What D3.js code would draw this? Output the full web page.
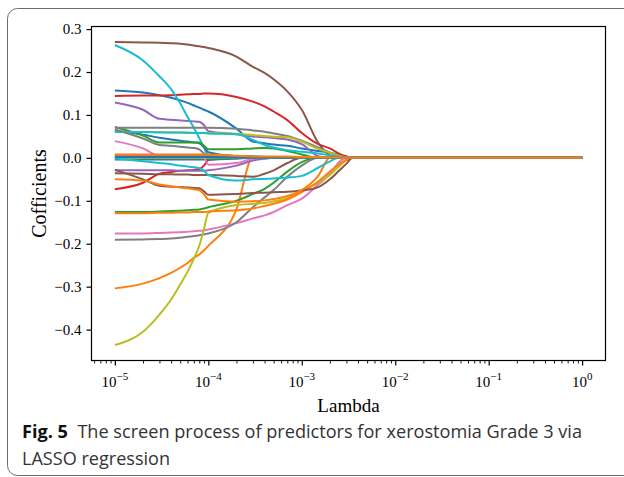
<!DOCTYPE html>
<html>
<head>
<meta charset="utf-8">
<script src="https://cdn.jsdelivr.net/npm/d3@7"></script>
<style>
  html, body { margin: 0; padding: 0; background: #fff; }
  svg { display: block; }
</style>
</head>
<body>
<div id="chart"></div>
<script>
// lambda grid of the LASSO path
var lambdas = [1e-5, 2e-5, 3e-5, 4e-5, 5e-5, 6e-5, 7e-5, 8e-5, 9e-5, 1e-4,
               2e-4, 3e-4, 4e-4, 5e-4, 7e-4, 1e-3, 1.5e-3, 2e-3, 2.5e-3, 3e-3, 3.5e-3, 1];

// coefficient paths, in plotting order (colour cycle tab10)
var coef00 = [0.157,0.152,0.146,0.140,0.134,0.128,0.122,0.117,0.112,0.108,0.068,0.038,0.034,0.031,0.028,0.022,0.016,0.012,0.007,0.003,0,0];
var coef01 = [-0.304,-0.293,-0.280,-0.268,-0.256,-0.245,-0.233,-0.225,-0.215,-0.205,-0.120,0.002,0.002,0.002,0.002,0.002,0.001,0,0,0,0,0];
var coef02 = [-0.126,-0.126,-0.125,-0.124,-0.123,-0.122,-0.121,-0.120,-0.118,-0.115,-0.100,-0.084,-0.072,-0.058,-0.032,-0.010,0,0,0,0,0,0];
var coef03 = [0.144,0.145,0.145,0.146,0.147,0.148,0.149,0.149,0.150,0.150,0.142,0.131,0.120,0.108,0.088,0.058,0.032,0.022,0.010,0.003,0,0];
var coef04 = [0.129,0.112,0.091,0.089,0.087,0.086,0.085,0.084,0.076,0.062,0.055,0.050,0.048,0.046,0.043,0.032,0.004,0,0,0,0,0];
var coef05 = [0.270,0.269,0.268,0.267,0.266,0.264,0.262,0.260,0.258,0.256,0.236,0.212,0.198,0.183,0.155,0.112,0.035,0.006,0,0,0,0];
var coef06 = [-0.176,-0.176,-0.175,-0.174,-0.173,-0.172,-0.171,-0.170,-0.169,-0.167,-0.152,-0.141,-0.134,-0.126,-0.110,-0.095,-0.062,-0.038,-0.010,0,0,0];
var coef07 = [-0.191,-0.190,-0.189,-0.188,-0.186,-0.184,-0.182,-0.180,-0.178,-0.176,-0.150,-0.115,-0.092,-0.075,-0.044,-0.018,0,0,0,0,0,0];
var coef08 = [-0.436,-0.405,-0.365,-0.330,-0.295,-0.265,-0.235,-0.205,-0.165,-0.128,-0.110,-0.107,-0.105,-0.101,-0.094,-0.076,-0.058,-0.040,-0.020,-0.005,0,0];
var coef09 = [0.263,0.227,0.190,0.160,0.127,0.095,0.070,0.046,0.024,0.005,0.004,0.003,0.002,0.001,0,0,0,0,0,0,0,0];
var coef10 = [0.063,0.054,0.047,0.043,0.040,0.038,0.036,0.034,0.025,0.013,0.004,0.003,0.002,0.001,0,0,0,0,0,0,0,0];
var coef11 = [-0.129,-0.129,-0.128,-0.128,-0.127,-0.127,-0.126,-0.126,-0.126,-0.125,-0.122,-0.118,-0.112,-0.107,-0.097,-0.080,-0.055,-0.032,-0.015,-0.005,0,0];
var coef12 = [0.072,0.052,0.036,0.036,0.036,0.036,0.036,0.036,0.028,0.020,0.020,0.022,0.023,0.022,0.016,0.008,0,0,0,0,0,0];
var coef13 = [-0.073,-0.058,-0.037,-0.033,-0.030,-0.029,-0.028,-0.026,-0.018,-0.005,0,0,0,0,0,0,0,0,0,0,0,0];
var coef14 = [-0.029,-0.029,-0.029,-0.029,-0.030,-0.030,-0.030,-0.030,-0.030,-0.029,-0.018,-0.006,-0.002,0,0,0,0,0,0,0,0,0];
var coef15 = [-0.028,-0.050,-0.065,-0.067,-0.068,-0.069,-0.070,-0.071,-0.078,-0.086,-0.084,-0.082,-0.081,-0.080,-0.079,-0.076,-0.068,-0.050,-0.030,-0.014,0,0];
var coef16 = [0.039,0.022,0.004,0.002,0.002,0.002,0.001,0.001,0.001,0.001,0.001,0,0,0,0,0,0,0,0,0,0,0];
var coef17 = [0.070,0.070,0.070,0.070,0.070,0.070,0.070,0.070,0.070,0.070,0.068,0.064,0.061,0.057,0.051,0.040,0.024,0.012,0.003,0,0,0];
var coef18 = [0.060,0.060,0.060,0.059,0.059,0.058,0.058,0.058,0.058,0.058,0.056,0.053,0.051,0.049,0.048,0.038,0.021,0.012,0.005,0.001,0,0];
var coef19 = [0.060,0.060,0.059,0.059,0.059,0.059,0.058,0.058,0.058,0.057,0.055,0.042,0.030,0.024,0.018,0.014,0.010,0.006,0.003,0.001,0,0];
var coef20 = [-0.004,-0.004,-0.004,-0.004,-0.004,-0.004,-0.004,-0.004,-0.004,-0.004,-0.002,0,0,0,0,0,0,0,0,0,0,0];
var coef21 = [-0.050,-0.053,-0.062,-0.066,-0.069,-0.071,-0.073,-0.075,-0.085,-0.097,-0.102,-0.101,-0.099,-0.096,-0.089,-0.075,-0.042,0,0,0,0,0];
var coef22 = [-0.001,-0.001,-0.001,-0.001,-0.001,-0.001,-0.001,-0.001,-0.001,-0.001,0,0,0,0,0,0,0,0,0,0,0,0];
var coef23 = [0.007,0.007,0.007,0.007,0.007,0.007,0.007,0.007,0.007,0.007,0.004,0.002,0,0,0,0,0,0,0,0,0,0];
var coef24 = [0.003,0.003,0.003,0.003,0.003,0.003,0.003,0.003,0.003,0.003,0.002,0,0,0,0,0,0,0,0,0,0,0];
var coef25 = [-0.036,-0.037,-0.038,-0.038,-0.039,-0.039,-0.040,-0.040,-0.040,-0.040,-0.042,-0.044,-0.037,-0.029,-0.012,0,0,0,0,0,0,0];
var coef26 = [0.001,0.001,0.001,0.001,0.001,0.001,0.001,0.001,0,-0.016,-0.012,-0.002,0,0,0,0,0,0,0,0,0,0];
var coef27 = [0.066,0.045,0.030,0.028,0.026,0.024,0.023,0.020,0.010,0.004,0.002,0,0,0,0,0,0,0,0,0,0,0];
var coef28 = [0.001,0.001,0.001,0.001,0.001,0.001,0.001,0.001,0.001,0.001,0.001,0,0,0,0,0,0,0,0,0,0,0];
var coef29 = [-0.001,-0.008,-0.012,-0.015,-0.018,-0.020,-0.022,-0.024,-0.030,-0.040,-0.053,-0.050,-0.049,-0.048,-0.046,-0.042,-0.023,-0.008,0,0,0,0];
var coef30 = [0.002,0.002,0.002,0.002,0.002,0.002,0.002,0.002,0.002,0.002,0.001,0,0,0,0,0,0,0,0,0,0,0];
var coef31 = [0.007,0.007,0.007,0.007,0.007,0.007,0.007,0.007,0.007,0.007,0.005,0.003,0.003,0.003,0.003,0.002,0.002,0.001,0.001,0,0,0];

var paths = [coef00, coef01, coef02, coef03, coef04, coef05, coef06, coef07, coef08, coef09,
             coef10, coef11, coef12, coef13, coef14, coef15, coef16, coef17, coef18, coef19,
             coef20, coef21, coef22, coef23, coef24, coef25, coef26, coef27, coef28, coef29,
             coef30, coef31];

var yTicks = [-0.4, -0.3, -0.2, -0.1, 0.0, 0.1, 0.2, 0.3];
var xTicks = [1e-5, 1e-4, 1e-3, 1e-2, 1e-1, 1];
var xTickExp = ["\u22125", "\u22124", "\u22123", "\u22122", "\u22121", "0"];

var width = 624, height = 477;
var plotL = 91.5, plotR = 605.5, plotT = 26.5, plotB = 360.5;

var svg = d3.select("#chart").append("svg")
    .attr("width", width)
    .attr("height", height);

// card frame
svg.append("rect")
    .attr("x", 7.5).attr("y", 8.5)
    .attr("width", 700).attr("height", 467)
    .attr("rx", 10)
    .attr("fill", "none")
    .attr("stroke", "#6b6b6b")
    .attr("stroke-width", 1);

var x = d3.scaleLog()
    .domain([Math.pow(10, -5.25), Math.pow(10, 0.25)])
    .range([plotL, plotR]);

var y = d3.scaleLinear()
    .domain([-0.472, 0.306])
    .range([plotB, plotT]);

var color = d3.scaleOrdinal(d3.schemeCategory10);

var line = d3.line()
    .x(function(d, i) { return x(lambdas[i]); })
    .y(function(d) { return y(d); })
    .curve(d3.curveMonotoneX);

svg.append("defs").append("clipPath").attr("id", "plot")
  .append("rect")
    .attr("x", plotL).attr("y", plotT)
    .attr("width", plotR - plotL).attr("height", plotB - plotT);

svg.append("g")
    .attr("clip-path", "url(#plot)")
  .selectAll("path")
  .data(paths)
  .enter().append("path")
    .attr("d", line)
    .attr("fill", "none")
    .attr("stroke", function(d, i) { return color(i % 10); })
    .attr("stroke-width", 2)
    .attr("stroke-linejoin", "round");

// frame of axes
svg.append("rect")
    .attr("x", plotL).attr("y", plotT)
    .attr("width", plotR - plotL).attr("height", plotB - plotT)
    .attr("fill", "none")
    .attr("stroke", "#000")
    .attr("stroke-width", 1.2);

var serif = "'Liberation Serif', 'Times New Roman', serif";

// y axis
var yAxis = svg.append("g")
    .attr("transform", "translate(" + plotL + ",0)")
    .call(d3.axisLeft(y).tickValues(yTicks).tickSize(5).tickPadding(5)
      .tickFormat(function(d) { return d3.format(".1f")(d).replace("-", "\u2212"); }));
yAxis.select(".domain").remove();
yAxis.selectAll("line").attr("stroke", "#000").attr("stroke-width", 1.2);
yAxis.selectAll("text")
    .style("font-family", serif)
    .style("font-size", "15px")
    .attr("fill", "#000");

// x axis, minor ticks
var minor = [];
for (var k = -6; k <= 0; k++) {
  for (var m = 2; m <= 9; m++) {
    var v = m * Math.pow(10, k);
    if (v > x.domain()[0] && v < x.domain()[1]) minor.push(v);
  }
}
var xMinor = svg.append("g")
    .attr("transform", "translate(0," + plotB + ")")
    .call(d3.axisBottom(x).tickValues(minor).tickSize(3).tickFormat(""));
xMinor.select(".domain").remove();
xMinor.selectAll("line").attr("stroke", "#000").attr("stroke-width", 0.9);

var xAxis = svg.append("g")
    .attr("transform", "translate(0," + plotB + ")")
    .call(d3.axisBottom(x).tickValues(xTicks).tickSize(5).tickFormat(""));
xAxis.select(".domain").remove();
xAxis.selectAll("line").attr("stroke", "#000").attr("stroke-width", 1.2);

var xl = svg.append("g").selectAll("text")
  .data(xTicks)
  .enter().append("text")
    .attr("x", function(d) { return x(d); })
    .attr("y", 387)
    .attr("text-anchor", "middle")
    .style("font-family", serif)
    .style("font-size", "15px")
    .attr("fill", "#000");
xl.append("tspan").text("10");
xl.append("tspan")
    .attr("dy", -7)
    .style("font-size", "11px")
    .text(function(d, i) { return xTickExp[i]; });

// axis titles
svg.append("text")
    .attr("x", (plotL + plotR) / 2)
    .attr("y", 412)
    .attr("text-anchor", "middle")
    .style("font-family", serif)
    .style("font-size", "19px")
    .attr("fill", "#000")
    .text("Lambda");

svg.append("text")
    .attr("transform", "translate(46," + ((plotT + plotB) / 2) + ") rotate(-90)")
    .attr("text-anchor", "middle")
    .style("font-family", serif)
    .style("font-size", "20px")
    .attr("fill", "#000")
    .text("Cofficients");

// figure caption
var cap = svg.append("text")
    .attr("x", 22)
    .attr("y", 438)
    .attr("textLength", 560)
    .attr("lengthAdjust", "spacingAndGlyphs")
    .style("font-family", "'Open Sans', 'Noto Sans', sans-serif")
    .style("font-size", "18px")
    .attr("fill", "#333");
cap.append("tspan").style("font-weight", "bold").attr("fill", "#111").text("Fig. 5");
cap.append("tspan").text("\u00a0 The screen process of predictors for xerostomia Grade 3 via");

svg.append("text")
    .attr("x", 22)
    .attr("y", 465)
    .attr("textLength", 148)
    .attr("lengthAdjust", "spacingAndGlyphs")
    .style("font-family", "'Open Sans', 'Noto Sans', sans-serif")
    .style("font-size", "18px")
    .attr("fill", "#333")
    .text("LASSO regression");
</script>
</body>
</html>
